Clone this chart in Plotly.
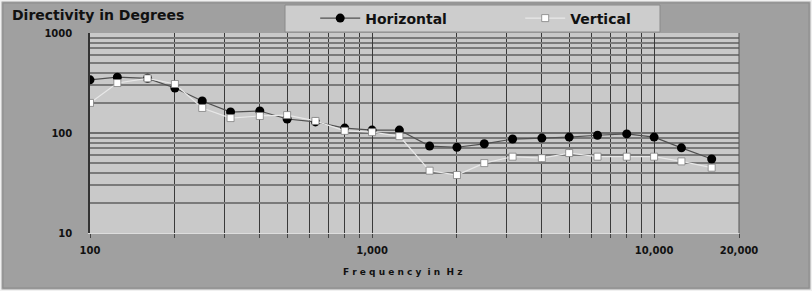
import plotly.graph_objects as go

freqs = [100, 125, 160, 200, 250, 315, 400, 500, 630, 800, 1000, 1250, 1600,
         2000, 2500, 3150, 4000, 5000, 6300, 8000, 10000, 12500, 16000]
horizontal = [340, 362, 352, 282, 209, 162, 166, 138, 129, 112, 107, 107, 74,
              72, 78, 87, 89, 91, 95, 98, 91, 71, 55]
vertical = [200, 316, 352, 309, 178, 141, 148, 151, 132, 105, 102, 93, 42,
            38, 50, 58, 56, 63, 58, 58, 58, 52, 45]

x_tick_vals = [100, 1000, 10000, 20000]
x_tick_text = ["100", "1,000", "10,000", "20,000"]
x_minor_vals = [200, 300, 400, 500, 600, 700, 800, 900, 2000, 3000, 4000, 5000,
                6000, 7000, 8000, 9000]
y_tick_vals = [10, 100, 1000]
y_tick_text = ["10", "100", "1000"]
y_minor_vals = [20, 30, 40, 50, 60, 70, 80, 90, 200, 300, 400, 500, 600, 700, 800, 900]

FONT = "DejaVu Sans, Verdana, sans-serif"
PW, PH, L, T = 649, 200, 90, 33


def px(x):
    return (x - L) / PW


def py(y):
    return 1 + (T - y) / PH


fig = go.Figure()
fig.add_trace(go.Scatter(
    x=freqs, y=horizontal, name="Horizontal", mode="lines+markers",
    line=dict(color="#505050", width=1.2),
    marker=dict(symbol="circle", size=9, color="#000000", line=dict(color="#000000", width=0)),
))
fig.add_trace(go.Scatter(
    x=freqs, y=vertical, name="Vertical", mode="lines+markers",
    line=dict(color="#e8e8e8", width=1.2),
    marker=dict(symbol="square", size=7, color="#ffffff", line=dict(color="#808080", width=0.8)),
))

fig.update_layout(
    width=812, height=291,
    paper_bgcolor="#a0a0a0", plot_bgcolor="#c9c9c9",
    margin=dict(l=90, r=73, t=33, b=58, autoexpand=False),
    font=dict(family=FONT, color="#111111"),
    showlegend=True,
    legend=dict(
        orientation="h", x=0.347, y=1.0725, xanchor="left", yanchor="middle",
        bgcolor="rgba(0,0,0,0)", borderwidth=0,
        font=dict(family=FONT, size=14, color="#111111", weight="bold"),
        entrywidth=150, entrywidthmode="pixels", itemwidth=40,
    ),
    shapes=[
        dict(type="rect", xref="paper", yref="paper",
             x0=px(0), x1=px(812), y0=py(291), y1=py(0),
             fillcolor="rgba(0,0,0,0)", line=dict(color="#f0f0f0", width=3), layer="below"),
        dict(type="rect", xref="paper", yref="paper",
             x0=px(3), x1=px(809), y0=py(288), y1=py(3),
             fillcolor="rgba(0,0,0,0)", line=dict(color="#8c8c8c", width=1), layer="below"),
        dict(type="rect", xref="paper", yref="paper",
             x0=px(285), x1=px(660), y0=py(32), y1=py(5),
             fillcolor="#cdcdcd", line=dict(color="#8a8a8a", width=1), layer="below"),
        dict(type="line", xref="paper", yref="paper", x0=1, x1=1, y0=0, y1=1,
             line=dict(color="#555555", width=1)),
    ],
    annotations=[
        dict(text="<b>Directivity in Degrees</b>", xref="paper", yref="paper",
             x=px(10), y=py(15), xanchor="left", yanchor="middle", showarrow=False,
             font=dict(family=FONT, size=14, color="#111111")),
        dict(text="<b>F r e q u e n c y  i n  H z</b>", xref="paper", yref="paper",
             x=0.482, y=-0.195, xanchor="center", yanchor="middle", showarrow=False,
             font=dict(family=FONT, size=9, color="#111111")),
    ],
)

fig.update_xaxes(
    type="log", range=[2, 4.30103],
    tickvals=x_tick_vals, ticktext=x_tick_text,
    tickfont=dict(family=FONT, size=10, color="#111111", weight="bold"),
    showgrid=True, gridcolor="#3a3a3a", gridwidth=1,
    ticks="outside", ticklen=4, tickcolor="#444444",
    minor=dict(tickvals=x_minor_vals, showgrid=True, gridcolor="#3a3a3a", gridwidth=1,
               ticks="outside", ticklen=4, tickcolor="#444444"),
    showline=True, linecolor="#dddddd", linewidth=1, mirror=False,
    zeroline=False, ticklabelstandoff=4,
)
fig.update_yaxes(
    type="log", range=[1, 3],
    tickvals=y_tick_vals, ticktext=y_tick_text,
    tickfont=dict(family=FONT, size=10, color="#111111", weight="bold"),
    showgrid=True, gridcolor="#6e6e6e", gridwidth=1.5,
    minor=dict(tickvals=y_minor_vals, showgrid=True, gridcolor="#7a7a7a", gridwidth=1.5),
    showline=True, linecolor="#333333", linewidth=1.5,
    zeroline=False, ticks="", ticklabelstandoff=14,
)

fig.write_html("out.html", config={"displayModeBar": False},
               post_script="document.body.style.margin='0';")
